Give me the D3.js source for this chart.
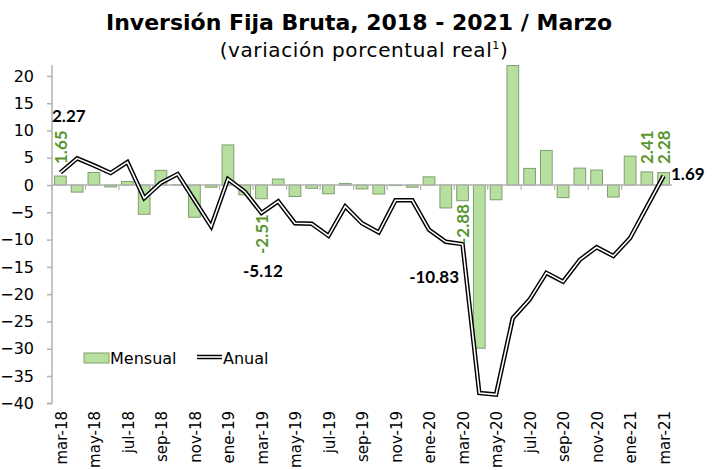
<!DOCTYPE html>
<html>
<head>
<meta charset="utf-8">
<script src="https://cdn.jsdelivr.net/npm/d3@7"></script>
<style>
  body { margin: 0; background: #fff; }
  text { font-family: 'DejaVu Sans', sans-serif; }
</style>
</head>
<body>
<script>
// monthly categories
const months = ['mar-18','abr-18','may-18','jun-18','jul-18','ago-18','sep-18','oct-18','nov-18','dic-18',
  'ene-19','feb-19','mar-19','abr-19','may-19','jun-19','jul-19','ago-19','sep-19','oct-19','nov-19','dic-19',
  'ene-20','feb-20','mar-20','abr-20','may-20','jun-20','jul-20','ago-20','sep-20','oct-20','nov-20','dic-20',
  'ene-21','feb-21','mar-21']
const mensual = [1.65, -1.3, 2.3, -0.35, 0.65, -5.35, 2.7, 0.1, -5.9, -0.4,
  7.35, -1.8, -2.51, 1.1, -2.1, -0.6, -1.6, 0.3, -0.7, -1.65, -0.1, -0.4,
  1.5, -4.2, -2.88, -29.9, -2.7, 21.9, 3.05, 6.35, -2.3, 3.1, 2.75, -2.2,
  5.3, 2.41, 2.28]
const anual = [2.27, 4.9, 3.6, 2.2, 4.2, -2.4, 0.4, 2.0, -2.8, -7.6,
  1.1, -1.2, -5.12, -3.0, -7.0, -7.1, -9.3, -3.9, -7.0, -8.7, -2.8, -2.8,
  -8.2, -10.4, -10.83, -38.1, -38.4, -24.4, -21.0, -16.1, -17.7, -13.7, -11.4, -13.0,
  -9.7, -4.0, 1.69]
const yTicks = [20, 15, 10, 5, 0, -5, -10, -15, -20, -25, -30, -35, -40]
// labelled points
const greenLabels = ['mar-18', 'mar-19', 'mar-20', 'feb-21', 'mar-21']
const blackLabels = ['mar-18', 'mar-19', 'mar-20', 'mar-21']

const w = 715
const h = 470
const pLeft = 52, pRight = 672, pTop = 65, pBottom = 403.3

const svg = d3.select('body')
  .append('svg')
  .attr('width', w)
  .attr('height', h)

const x = d3.scaleBand()
  .domain(months)
  .range([pLeft, pRight])
  .paddingInner(0.3)
  .paddingOuter(0.15)

const y = d3.scaleLinear()
  .domain([-40, 22])
  .range([pBottom, pTop])

const cx = d => x(d) + x.bandwidth() / 2

//title
svg.append('text')
  .attr('x', 359).attr('y', 30)
  .attr('text-anchor', 'middle')
  .attr('font-size', 22).attr('font-weight', 'bold')
  .text('Inversión Fija Bruta, 2018 - 2021 / Marzo')

const sub = svg.append('text')
  .attr('x', 364).attr('y', 57)
  .attr('text-anchor', 'middle')
  .attr('font-size', 20)
  .attr('letter-spacing', 0.6)
sub.append('tspan').text('(variación porcentual real')
sub.append('tspan').attr('font-size', 11).attr('dy', -8).text('1')
sub.append('tspan').attr('dy', 8).text(')')

svg.append('clipPath').attr('id', 'plot')
  .append('rect')
  .attr('x', pLeft).attr('y', pTop)
  .attr('width', pRight - pLeft).attr('height', pBottom - pTop)

//y axis
const yAxis = svg.append('g')
  .attr('transform', `translate(${pLeft},0)`)
  .call(d3.axisLeft(y).tickValues(yTicks).tickSize(5).tickPadding(13))
yAxis.select('.domain').attr('d', `M-5,${pBottom}H0V${pTop}`)
yAxis.selectAll('.domain, line').attr('stroke', '#b3b3b3').attr('stroke-width', 1.5)
yAxis.selectAll('text')
  .style('font-family', 'DejaVu Sans, sans-serif')
  .attr('font-size', 16)
  .attr('fill', '#000')

//bars
svg.append('g')
  .attr('clip-path', 'url(#plot)')
  .selectAll('rect')
  .data(mensual)
  .enter()
  .append('rect')
  .attr('x', (d, i) => x(months[i]))
  .attr('width', x.bandwidth())
  .attr('y', d => y(Math.max(0, d)))
  .attr('height', d => Math.abs(y(d) - y(0)))
  .attr('fill', '#b7df9f')
  .attr('stroke', '#7f9f6e')
  .attr('stroke-width', 1)

//zero line with ticks every two months
const xAxis = svg.append('g')
  .attr('transform', `translate(0,${y(0)})`)
xAxis.append('line')
  .attr('x1', pLeft).attr('x2', pRight)
  .attr('stroke', '#b3b3b3').attr('stroke-width', 1.5)
xAxis.selectAll('.tk')
  .data(months.filter((d, i) => i % 2 === 0))
  .enter()
  .append('line')
  .attr('class', 'tk')
  .attr('x1', d => x(d) - x.step() * x.paddingInner() / 2)
  .attr('x2', d => x(d) - x.step() * x.paddingInner() / 2)
  .attr('y1', 0).attr('y2', 5)
  .attr('stroke', '#b3b3b3').attr('stroke-width', 1.2)

//month labels
svg.append('g')
  .selectAll('text')
  .data(months.filter((d, i) => i % 2 === 0))
  .enter()
  .append('text')
  .attr('transform', d => `translate(${cx(d) + 1},411) rotate(-90)`)
  .attr('text-anchor', 'end')
  .attr('dy', '0.35em')
  .attr('font-size', 15)
  .text(d => d)

//annual line (double)
const line = d3.line()
  .x((d, i) => cx(months[i]))
  .y(d => y(d))
const lineG = svg.append('g').attr('clip-path', 'url(#plot)')
lineG.append('path')
  .attr('d', line(anual))
  .attr('fill', 'none')
  .attr('stroke', '#000')
  .attr('stroke-width', 4.5)
lineG.append('path')
  .attr('d', line(anual))
  .attr('fill', 'none')
  .attr('stroke', '#fff')
  .attr('stroke-width', 1.6)

//value labels
const greenPos = {'mar-18': 164, 'mar-19': 254, 'mar-20': 244, 'feb-21': 164, 'mar-21': 164}
svg.append('g')
  .selectAll('text')
  .data(greenLabels)
  .enter()
  .append('text')
  .attr('transform', d => `translate(${cx(d)},${greenPos[d]}) rotate(-90)`)
  .attr('dy', '0.36em')
  .style('font-family', 'Lato, sans-serif')
  .attr('font-size', 17).attr('font-weight', 'bold')
  .attr('fill', '#58962f')
  .text(d => mensual[months.indexOf(d)].toFixed(2))

const blackPos = {'mar-18': [52, 122, 'start'], 'mar-19': [263, 277, 'middle'],
  'mar-20': [459, 283, 'end'], 'mar-21': [671, 180, 'start']}
svg.append('g')
  .selectAll('text')
  .data(blackLabels)
  .enter()
  .append('text')
  .attr('x', d => blackPos[d][0])
  .attr('y', d => blackPos[d][1])
  .attr('text-anchor', d => blackPos[d][2])
  .style('font-family', 'Lato, sans-serif')
  .attr('font-size', 17).attr('font-weight', 'bold')
  .text(d => anual[months.indexOf(d)].toFixed(2))

//legend
const leg = svg.append('g')
leg.append('rect')
  .attr('x', 84).attr('y', 353).attr('width', 25).attr('height', 10)
  .attr('fill', '#b7df9f').attr('stroke', '#7f9f6e')
leg.append('text')
  .attr('x', 110).attr('y', 364)
  .attr('font-size', 16)
  .text('Mensual')
leg.append('line')
  .attr('x1', 197).attr('x2', 222).attr('y1', 357).attr('y2', 357)
  .attr('stroke', '#000').attr('stroke-width', 4.5)
leg.append('line')
  .attr('x1', 197).attr('x2', 222).attr('y1', 357).attr('y2', 357)
  .attr('stroke', '#fff').attr('stroke-width', 1.6)
leg.append('text')
  .attr('x', 223).attr('y', 364)
  .attr('font-size', 16)
  .text('Anual')
</script>
</body>
</html>
